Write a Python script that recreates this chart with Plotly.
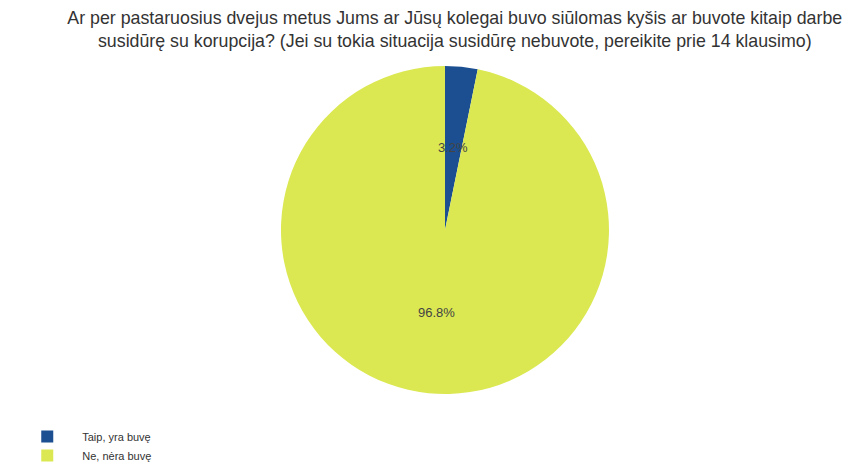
import math
import plotly.graph_objects as go

labels = ["Taip, yra buvę", "Ne, nėra buvę"]
values = [3.2, 96.8]
colors = ["#1B4F91", "#DBE851"]
title_text = ("Ar per pastaruosius dvejus metus Jums ar Jūsų kolegai buvo siūlomas kyšis ar buvote kitaip darbe<br>"
              "susidūrę su korupcija? (Jei su tokia situacija susidūrę nebuvote, pereikite prie 14 klausimo)")

W, H = 851, 462
M_T, M_B = 58, 54
dom_x = [0.027, 1]
dom_y = [0, 1]

fig = go.Figure()
fig.add_trace(go.Pie(
    labels=labels,
    values=values,
    marker=dict(colors=colors, line=dict(width=0)),
    sort=False,
    direction="clockwise",
    rotation=0,
    textinfo="none",
    domain=dict(x=dom_x, y=dom_y),
    hoverinfo="label+percent",
))

# percentage labels at half radius on each slice bisector
radius_px = 165
cx = (dom_x[0] + dom_x[1]) / 2
cy = (dom_y[0] + dom_y[1]) / 2
total = sum(values)
cum = 0
annotations = []
for v in values:
    ang = math.radians((cum + v / 2) / total * 360)
    cum += v
    annotations.append(dict(
        x=cx, y=cy, xref="paper", yref="paper",
        xshift=0.5 * radius_px * math.sin(ang),
        yshift=0.5 * radius_px * math.cos(ang),
        text=f"{v / total * 100:.1f}%",
        showarrow=False,
        font=dict(color="#444444", size=13),
    ))

fig.update_layout(
    width=W, height=H,
    paper_bgcolor="white", plot_bgcolor="white",
    font=dict(family="Liberation Sans, Arial, sans-serif", color="#333333"),
    title=dict(text=title_text, x=0.525, xanchor="center", y=0.966, yanchor="middle",
               font=dict(size=17.8, color="#333333")),
    margin=dict(l=0, r=0, t=M_T, b=M_B),
    annotations=annotations,
    legend=dict(orientation="v", x=0.005, xanchor="left", y=-0.085, yanchor="top",
                font=dict(size=11, color="#333333"), itemwidth=60,
                tracegroupgap=0),
)

fig.write_html("out.html")
